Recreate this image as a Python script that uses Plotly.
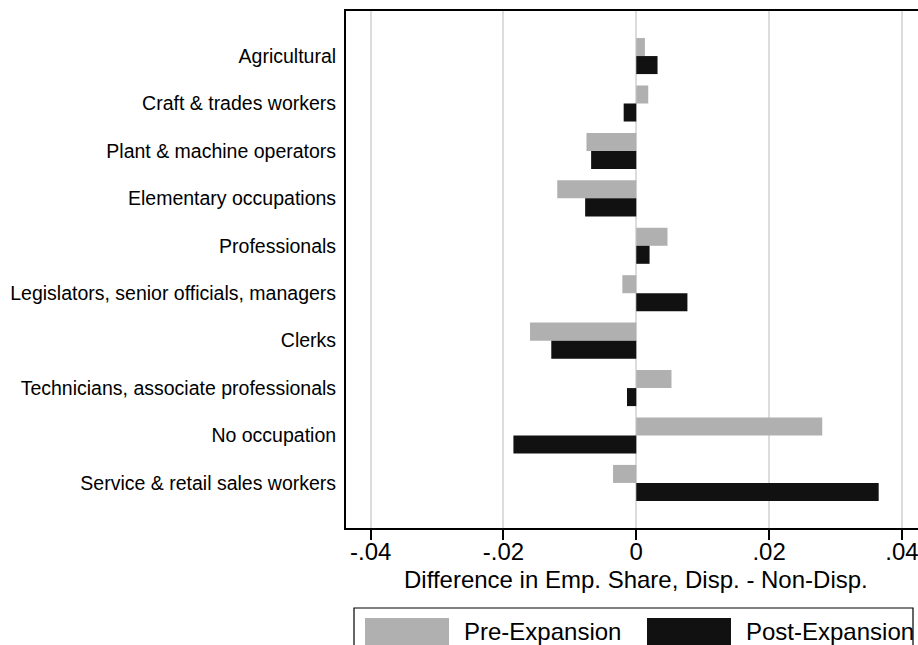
import plotly.graph_objects as go

# ── data ──────────────────────────────────────────────
categories = [
    "Agricultural",
    "Craft & trades workers",
    "Plant & machine operators",
    "Elementary occupations",
    "Professionals",
    "Legislators, senior officials, managers",
    "Clerks",
    "Technicians, associate professionals",
    "No occupation",
    "Service & retail sales workers",
]
pre_expansion  = [0.0013, 0.0018, -0.0075, -0.0119, 0.0047, -0.0021, -0.0160, 0.0053, 0.0280, -0.0035]
post_expansion = [0.0032, -0.0019, -0.0068, -0.0077, 0.0020, 0.0077, -0.0128, -0.0014, -0.0185, 0.0365]

tick_vals = [-0.04, -0.02, 0, 0.02, 0.04]
tick_text = ["-.04", "-.02", "0", ".02", ".04"]

FONT = "Liberation Sans, Arial, Helvetica, sans-serif"
GRAY = "#b0b0b0"
BLACK = "#111111"

FIG_W, FIG_H = 918, 645

# plot area in pixels: left 346, top 11, right 918 (cut), bottom 528
L, T, R, B = 346, 11, 918, 528
W, H = R - L, B - T


def px(x):
    return (x - L) / W


def py(y):
    return (B - y) / H


fig = go.Figure()
fig.add_trace(go.Bar(
    y=categories, x=pre_expansion, orientation="h",
    name="Pre-Expansion", marker=dict(color=GRAY, line=dict(width=0)),
    showlegend=False,
))
fig.add_trace(go.Bar(
    y=categories, x=post_expansion, orientation="h",
    name="Post-Expansion", marker=dict(color=BLACK, line=dict(width=0)),
    showlegend=False,
))

# legend drawn by hand (Stata-style large swatches)
shapes = [
    dict(type="rect", xref="paper", yref="paper",
         x0=px(354), x1=px(913), y0=py(608), y1=py(670),
         line=dict(color="#000000", width=1.2), fillcolor="rgba(0,0,0,0)"),
    dict(type="rect", xref="paper", yref="paper",
         x0=px(365), x1=px(449), y0=py(618), y1=py(670),
         line=dict(width=0), fillcolor=GRAY),
    dict(type="rect", xref="paper", yref="paper",
         x0=px(647), x1=px(731), y0=py(618), y1=py(670),
         line=dict(width=0), fillcolor=BLACK),
]
annotations = [
    dict(text="Pre-Expansion", xref="paper", yref="paper",
         x=px(462), y=py(631), xanchor="left", yanchor="middle",
         showarrow=False, font=dict(size=24, color="#000000", family=FONT)),
    dict(text="Post-Expansion", xref="paper", yref="paper",
         x=px(744), y=py(631), xanchor="left", yanchor="middle",
         showarrow=False, font=dict(size=24, color="#000000", family=FONT)),
    dict(text="Difference in Emp. Share, Disp. - Non-Disp.", xref="x", yref="paper",
         x=0, y=py(579), xanchor="center", yanchor="middle",
         showarrow=False, font=dict(size=24, color="#000000", family=FONT)),
]

fig.update_layout(
    width=FIG_W, height=FIG_H,
    margin=dict(l=L, r=FIG_W - R, t=T, b=FIG_H - B, pad=0),
    paper_bgcolor="white", plot_bgcolor="white",
    barmode="group", bargap=0.24, bargroupgap=0,
    font=dict(family=FONT, color="#000000"),
    shapes=shapes, annotations=annotations,
    xaxis=dict(
        range=[-0.04371, 0.04242],
        tickvals=tick_vals, ticktext=tick_text,
        ticks="outside", ticklen=10, tickwidth=1.5, tickcolor="#000000",
        ticklabelstandoff=-9, ticklabeloverflow="allow",
        tickfont=dict(size=24, family=FONT, color="#000000"),
        showgrid=True, gridcolor="#dcdcdc", gridwidth=1.5,
        zeroline=True, zerolinecolor="#dcdcdc", zerolinewidth=1.5,
        showline=True, linecolor="#000000", linewidth=2, mirror=True,
    ),
    yaxis=dict(
        type="category", categoryorder="array", categoryarray=categories,
        range=[9.95, -0.95],
        ticks="", ticklabelstandoff=4,
        tickfont=dict(size=19.5, family=FONT, color="#000000"),
        showgrid=False, zeroline=False,
        showline=True, linecolor="#000000", linewidth=2, mirror=False,
    ),
)

# drop the default 8px page margin so the figure fills the window exactly
fig.write_html(
    "out.html",
    config={"displayModeBar": False},
    post_script="document.body.style.margin='0';document.body.style.overflow='hidden';",
)
